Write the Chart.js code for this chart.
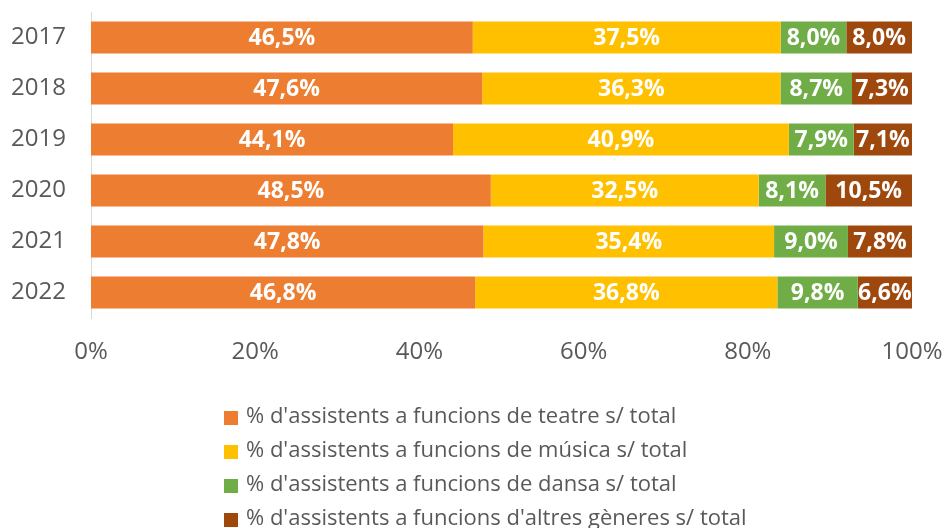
<!DOCTYPE html>
<html>
<head>
<meta charset="utf-8">
<script src="https://cdn.jsdelivr.net/npm/chart.js@4"></script>
<style>
  html, body { margin: 0; padding: 0; background: #fff; }
  #wrap { width: 944px; height: 528px; }
</style>
</head>
<body>
<div id="wrap"><canvas id="grafico"></canvas></div>
<script>
const anys = ['2017', '2018', '2019', '2020', '2021', '2022'];
const teatre = [46.5, 47.6, 44.1, 48.5, 47.8, 46.8];
const musica = [37.5, 36.3, 40.9, 32.5, 35.4, 36.8];
const dansa = [8.0, 8.7, 7.9, 8.1, 9.0, 9.8];
const altres = [8.0, 7.3, 7.1, 10.5, 7.8, 6.6];
const ticksX = [0, 20, 40, 60, 80, 100];

const series = [
  { label: "% d'assistents a funcions de teatre s/ total", valors: teatre, color: '#ED7D31' },
  { label: "% d'assistents a funcions de música s/ total", valors: musica, color: '#FFC000' },
  { label: "% d'assistents a funcions de dansa s/ total", valors: dansa, color: '#70AD47' },
  { label: "% d'assistents a funcions d'altres gèneres s/ total", valors: altres, color: '#9E480E' }
];

// 100% apilat: cada fila es normalitza al seu total
const totals = anys.map((_, i) => series.reduce((s, d) => s + d.valors[i], 0));

const font = "'Open Sans', sans-serif";
const gris = '#595959';

const etiquetes = {
  id: 'etiquetes',
  afterDatasetsDraw(chart) {
    const ctx = chart.ctx;
    ctx.save();
    ctx.font = 'bold 23px ' + font;
    ctx.fillStyle = '#fff';
    ctx.textAlign = 'center';
    ctx.textBaseline = 'middle';
    chart.data.datasets.forEach((ds, di) => {
      chart.getDatasetMeta(di).data.forEach((bar, i) => {
        const x = (bar.x + bar.base) / 2;
        ctx.fillText(series[di].valors[i].toFixed(1).replace('.', ',') + '%', x, bar.y + 1);
      });
    });
    ctx.restore();
  }
};

const llegenda = {
  id: 'llegenda',
  afterDraw(chart) {
    const ctx = chart.ctx;
    ctx.save();
    ctx.font = '22px ' + font;
    ctx.textBaseline = 'middle';
    series.forEach((s, i) => {
      const y = 417 + i * 34;
      ctx.fillStyle = s.color;
      ctx.fillRect(224, y - 6, 14, 14);
      ctx.fillStyle = gris;
      ctx.fillText(s.label, 246, y);
    });
    ctx.restore();
  }
};

new Chart(document.getElementById('grafico'), {
  type: 'bar',
  data: {
    labels: anys,
    datasets: series.map(s => ({
      label: s.label,
      data: s.valors.map((v, i) => v / totals[i] * 100),
      backgroundColor: s.color,
      categoryPercentage: 1,
      barPercentage: 0.63
    }))
  },
  options: {
    indexAxis: 'y',
    responsive: true,
    maintainAspectRatio: false,
    animation: false,
    layout: { padding: { top: 12, left: 0, right: 32, bottom: 160 } },
    plugins: {
      legend: { display: false },
      tooltip: { enabled: false }
    },
    scales: {
      x: {
        stacked: true,
        min: 0,
        max: 100,
        afterBuildTicks: axis => { axis.ticks = ticksX.map(v => ({ value: v })); },
        afterFit: scale => {
          scale.height = 50;
          scale.paddingLeft = 0;
          scale.paddingRight = 0;
        },
        grid: { display: false, drawTicks: false },
        border: { display: false },
        ticks: {
          padding: 20,
          color: gris,
          font: { family: font, size: 24 },
          callback: v => v + '%'
        }
      },
      y: {
        stacked: true,
        afterFit: scale => {
          scale.width = 91;
          scale.paddingTop = 0;
          scale.paddingBottom = 0;
        },
        grid: { display: false, drawTicks: false },
        border: { display: true, color: '#D9D9D9', width: 1 },
        ticks: {
          padding: 25,
          color: gris,
          font: { family: font, size: 24 }
        }
      }
    }
  },
  plugins: [etiquetes, llegenda]
});
</script>
</body>
</html>
